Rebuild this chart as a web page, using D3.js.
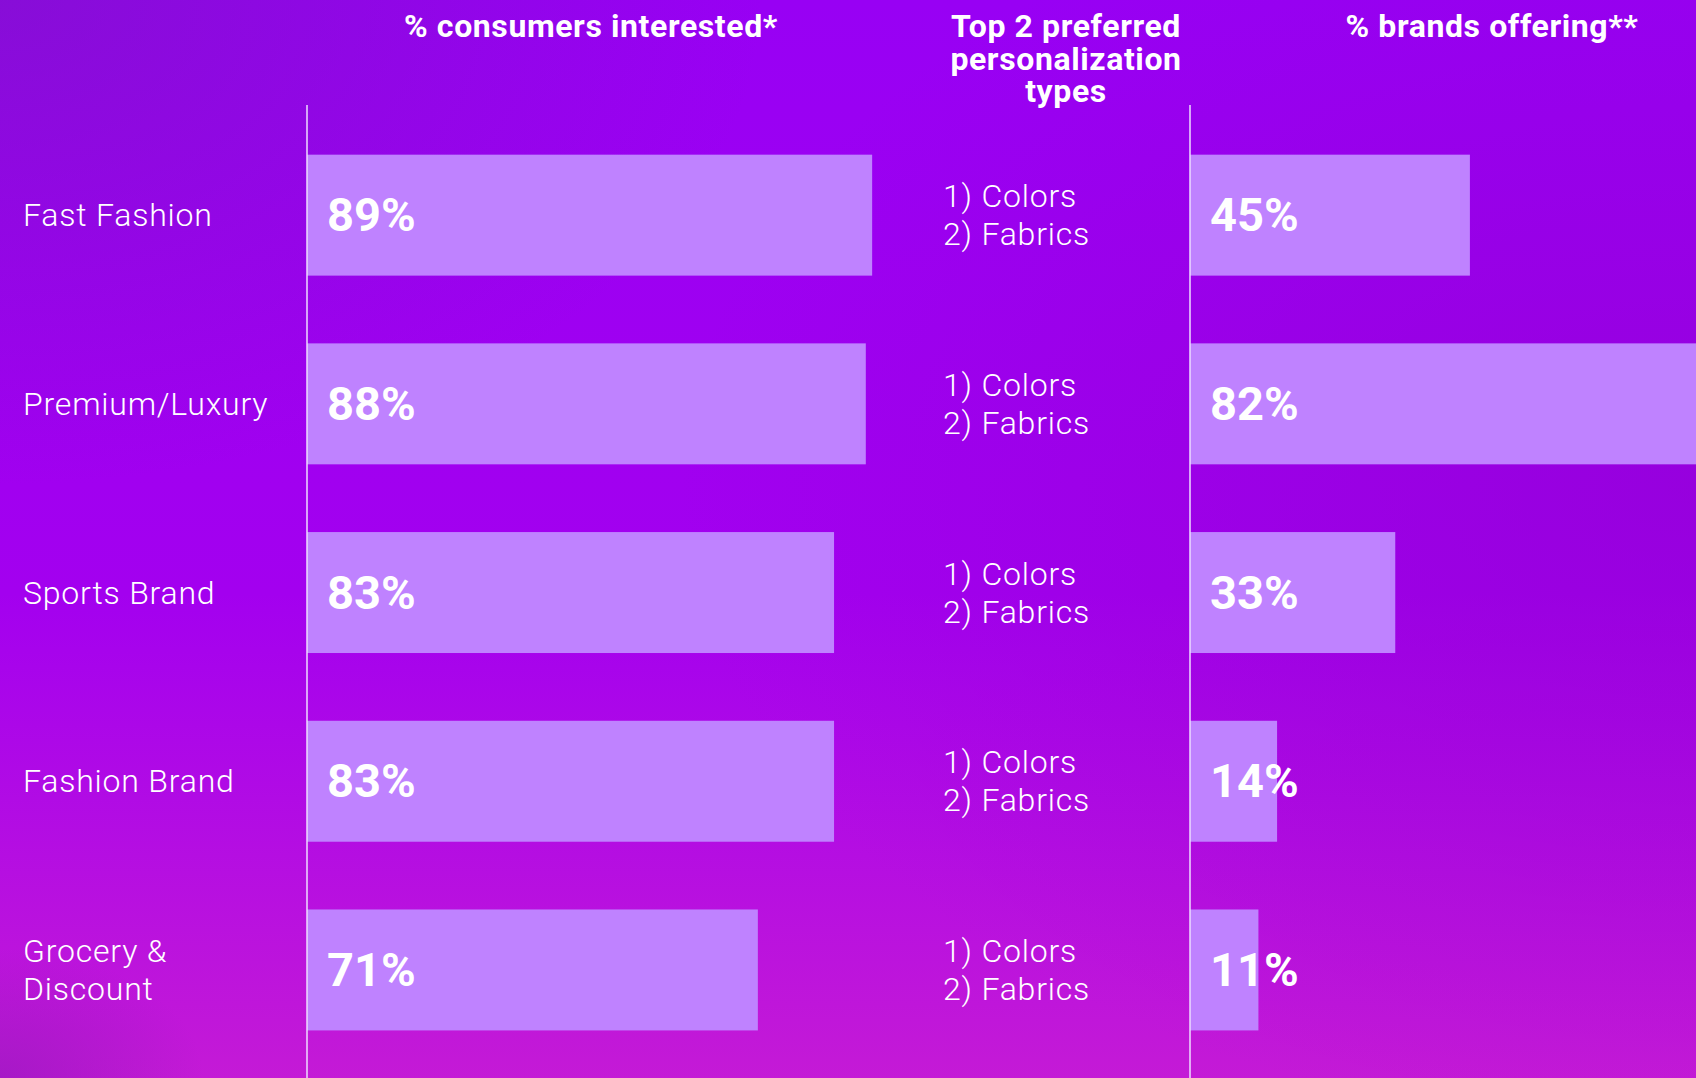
<!DOCTYPE html>
<html>
<head>
<meta charset="utf-8">
<script src="https://cdnjs.cloudflare.com/ajax/libs/d3/7.8.5/d3.min.js"></script>
<style>
  html, body { margin: 0; padding: 0; overflow: hidden; background: #9c00f2; }
  svg { display: block; font-family: Roboto, "Open Sans", sans-serif; }
</style>
</head>
<body>
<div id="chart"></div>
<script>
// data
var categories = ["Fast Fashion", "Premium/Luxury", "Sports Brand", "Fashion Brand", "Grocery & Discount"];
var interested = [89, 88, 83, 83, 71];   // % consumers interested*
var offering = [45, 82, 33, 14, 11];     // % brands offering**
var prefTypes = ["1) Colors", "2) Fabrics"];
var headers = ["% consumers interested*", "Top 2 preferred personalization types", "% brands offering**"];

var width = 1696, height = 1078;

var svg = d3.select("#chart")
    .append("svg")
    .attr("width", width)
    .attr("height", height);

// background gradient
var defs = svg.append("defs");
var bg = defs.append("linearGradient")
    .attr("id", "bg")
    .attr("x1", 0).attr("y1", 0).attr("x2", 0).attr("y2", 1);
bg.append("stop").attr("offset", "0%").attr("stop-color", "#9800f4");
bg.append("stop").attr("offset", "55%").attr("stop-color", "#a300ef");
bg.append("stop").attr("offset", "100%").attr("stop-color", "#c41ad6");

var corner = defs.append("radialGradient")
    .attr("id", "corner")
    .attr("cx", 0).attr("cy", 0).attr("r", 0.45);
corner.append("stop").attr("offset", "0%").attr("stop-color", "#7a18c0").attr("stop-opacity", 0.55);
corner.append("stop").attr("offset", "100%").attr("stop-color", "#7a18c0").attr("stop-opacity", 0);

var rightShade = defs.append("radialGradient")
    .attr("id", "rightShade")
    .attr("cx", 1).attr("cy", 0.45).attr("r", 0.6);
rightShade.append("stop").attr("offset", "0%").attr("stop-color", "#8a00c8").attr("stop-opacity", 0.45);
rightShade.append("stop").attr("offset", "100%").attr("stop-color", "#8a00c8").attr("stop-opacity", 0);

// darker spot in the bottom left corner
var lowCorner = defs.append("radialGradient")
    .attr("id", "lowCorner")
    .attr("cx", 0).attr("cy", 1).attr("r", 0.12);
lowCorner.append("stop").attr("offset", "0%").attr("stop-color", "#9a18c0").attr("stop-opacity", 0.7);
lowCorner.append("stop").attr("offset", "100%").attr("stop-color", "#9a18c0").attr("stop-opacity", 0);

svg.append("rect").attr("width", width).attr("height", height).attr("fill", "url(#bg)");
svg.append("rect").attr("width", width).attr("height", height).attr("fill", "url(#rightShade)");
svg.append("rect").attr("width", width).attr("height", height).attr("fill", "url(#corner)");
svg.append("rect").attr("width", width).attr("height", height).attr("fill", "url(#lowCorner)");

// scales
var y = d3.scaleBand()
    .domain(categories)
    .range([120.7, 1064.4])
    .paddingInner(0.359)
    .paddingOuter(0.18);

var col1 = 307, col2 = 1190;
var x1 = d3.scaleLinear().domain([0, 100]).range([col1, col1 + 635]);
var x2 = d3.scaleLinear().domain([0, 100]).range([col2, col2 + 622]);

var barColor = "#bf82ff";

// headers
function header(txt, x, yy) {
    svg.append("text")
        .attr("x", x).attr("y", yy)
        .attr("text-anchor", "middle")
        .attr("fill", "#fff")
        .style("font-size", "32px").style("font-weight", 700)
        .style("letter-spacing", "0.6px")
        .text(txt);
}
header(headers[0], 591, 37);
["Top 2 preferred", "personalization", "types"].forEach(function(l, i) {
    header(l, 1066, 37 + i * 32.5);
});
header(headers[2], 1492, 37);

// bars, column 1
svg.selectAll(".bar1")
    .data(categories)
    .enter()
    .append("rect")
    .attr("class", "bar1")
    .attr("x", x1(0))
    .attr("y", function(d) { return y(d); })
    .attr("width", function(d, i) { return x1(interested[i]) - x1(0); })
    .attr("height", y.bandwidth())
    .attr("fill", barColor);

// bars, column 3
svg.selectAll(".bar2")
    .data(categories)
    .enter()
    .append("rect")
    .attr("class", "bar2")
    .attr("x", x2(0))
    .attr("y", function(d) { return y(d); })
    .attr("width", function(d, i) { return x2(offering[i]) - x2(0); })
    .attr("height", y.bandwidth())
    .attr("fill", barColor);

// divider lines
[col1, col2].forEach(function(cx) {
    svg.append("line")
        .attr("x1", cx).attr("x2", cx)
        .attr("y1", 105).attr("y2", height)
        .attr("stroke", "#ecdcff")
        .attr("stroke-width", 1.5);
});

// value labels
function valueLabels(vals, xs, cls) {
    svg.selectAll("." + cls)
        .data(categories)
        .enter()
        .append("text")
        .attr("class", cls)
        .attr("x", xs(0) + 20)
        .attr("y", function(d) { return y(d) + y.bandwidth() / 2 + 16; })
        .attr("fill", "#fff")
        .style("font-size", "47px").style("font-weight", 700)
        .text(function(d, i) { return vals[i] + "%"; });
}
valueLabels(interested, x1, "val1");
valueLabels(offering, x2, "val2");

// category labels (wrap "Grocery & Discount")
svg.selectAll(".cat")
    .data(categories)
    .enter()
    .append("text")
    .attr("class", "cat")
    .attr("fill", "#fff")
    .style("font-size", "32px").style("font-weight", 300)
    .style("letter-spacing", "0.8px")
    .each(function(d) {
        var lines = d === "Grocery & Discount" ? ["Grocery &", "Discount"] : [d];
        var cy = y(d) + y.bandwidth() / 2;
        var t = d3.select(this);
        lines.forEach(function(l, i) {
            t.append("tspan")
                .attr("x", 23)
                .attr("y", cy + 11 + (i - (lines.length - 1) / 2) * 38)
                .text(l);
        });
    });

// preferred types
svg.selectAll(".pref")
    .data(categories)
    .enter()
    .append("text")
    .attr("class", "pref")
    .attr("fill", "#fff")
    .style("font-size", "32px").style("font-weight", 300)
    .style("letter-spacing", "0.8px")
    .each(function(d) {
        var cy = y(d) + y.bandwidth() / 2;
        var t = d3.select(this);
        prefTypes.forEach(function(l, i) {
            t.append("tspan")
                .attr("x", 943)
                .attr("y", cy + 11 + (i - 0.5) * 38)
                .text(l);
        });
    });
</script>
</body>
</html>
